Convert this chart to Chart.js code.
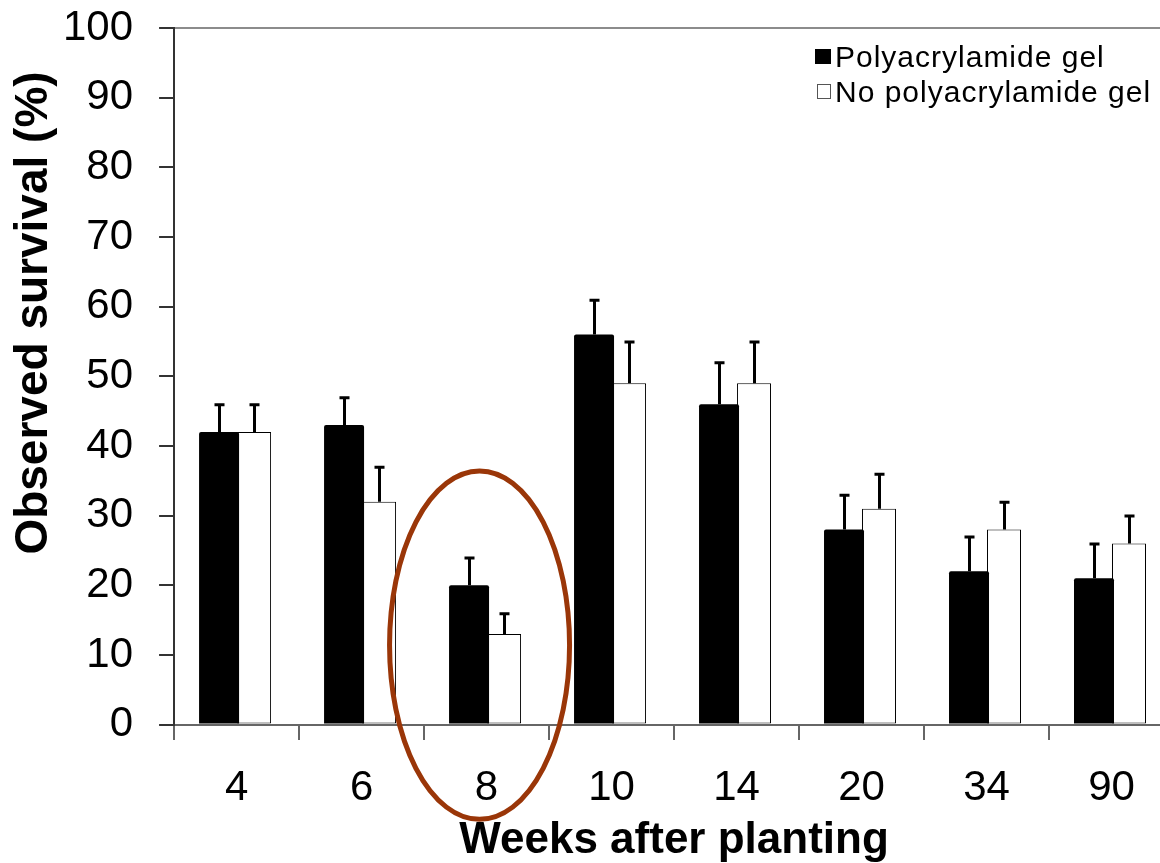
<!DOCTYPE html>
<html>
<head>
<meta charset="utf-8">
<script src="https://cdn.jsdelivr.net/npm/chart.js@4.4.1/dist/chart.umd.min.js"></script>
<style>
  html, body { margin: 0; padding: 0; background: #fff; overflow: hidden; width: 1160px; height: 863px; }
  #wrap { width: 1180px; height: 863px; }
</style>
</head>
<body>
<div id="wrap"><canvas id="c" width="1180" height="863"></canvas></div>
<script>
const weeks = ['4', '6', '8', '10', '14', '20', '34', '90'];
const gelSurvival = [42, 43, 20, 56, 46, 28, 22, 21];
const gelErrorTop = [46, 47, 24, 61, 52, 33, 27, 26];
const noGelSurvival = [42, 32, 13, 49, 49, 31, 28, 26];
const noGelErrorTop = [46, 37, 16, 55, 55, 36, 32, 30];
const seriesNames = ['Polyacrylamide gel', 'No polyacrylamide gel'];
const yTitle = 'Observed survival (%)';
const xTitle = 'Weeks after planting';

const FONT = "'Liberation Sans', Arial, Helvetica, sans-serif";

const errorBarPlugin = {
  id: 'errorBars',
  afterDatasetsDraw(chart) {
    const ctx = chart.ctx;
    const y = chart.scales.y;
    const tops = [gelErrorTop, noGelErrorTop];
    ctx.save();
    ctx.strokeStyle = '#000';
    ctx.lineWidth = 3;
    ctx.lineCap = 'butt';
    tops.forEach((arr, di) => {
      const meta = chart.getDatasetMeta(di);
      meta.data.forEach((bar, i) => {
        const yt = y.getPixelForValue(arr[i]);
        const x = Math.round(bar.x) + 0.5;
        ctx.beginPath();
        ctx.moveTo(x, bar.y);
        ctx.lineTo(x, yt);
        ctx.moveTo(x - 5, yt + 0.5);
        ctx.lineTo(x + 5, yt + 0.5);
        ctx.stroke();
      });
    });
    ctx.restore();
  }
};

const decorPlugin = {
  id: 'decor',
  afterDraw(chart) {
    const ctx = chart.ctx;
    const xs = chart.scales.x, ys = chart.scales.y;
    ctx.save();
    // highlight ellipse around week 8
    const cx = xs.getPixelForValue(2) - 7;
    const yTop = ys.getPixelForValue(36.4);
    const yBot = ys.getPixelForValue(-13.6);
    ctx.beginPath();
    ctx.ellipse(cx, (yTop + yBot) / 2, 90, (yBot - yTop) / 2, 0, 0, Math.PI * 2);
    ctx.strokeStyle = '#9a3608';
    ctx.lineWidth = 5;
    ctx.stroke();

    // legend
    ctx.textBaseline = 'alphabetic';
    ctx.textAlign = 'left';
    ctx.font = '30px ' + FONT;
    if ('letterSpacing' in ctx) ctx.letterSpacing = '1px';
    ctx.fillStyle = '#000';
    ctx.fillRect(815, 49, 16, 15);
    ctx.fillText(seriesNames[0], 835, 67);
    ctx.fillStyle = '#fff';
    ctx.fillRect(817, 84, 13, 14);
    ctx.strokeStyle = '#555';
    ctx.lineWidth = 1;
    ctx.strokeRect(817.5, 84.5, 13, 14);
    ctx.fillStyle = '#000';
    ctx.fillText(seriesNames[1], 835, 102);
    if ('letterSpacing' in ctx) ctx.letterSpacing = '0px';

    // y axis title
    ctx.translate(34, 313);
    ctx.rotate(-Math.PI / 2);
    ctx.font = 'bold 46px ' + FONT;
    ctx.textAlign = 'center';
    ctx.textBaseline = 'middle';
    ctx.fillText(yTitle, 0, 0);
    ctx.restore();
  }
};

new Chart(document.getElementById('c'), {
  type: 'bar',
  data: {
    labels: weeks,
    datasets: [
      {
        label: seriesNames[0],
        data: gelSurvival,
        backgroundColor: '#000',
        borderColor: '#000',
        borderWidth: 0,
        borderRadius: 2,
        borderSkipped: 'bottom',
        barPercentage: 40 / 35
      },
      {
        label: seriesNames[1],
        data: noGelSurvival,
        backgroundColor: '#fff',
        borderColor: '#000',
        borderWidth: 1,
        borderSkipped: false,
        barPercentage: 34 / 35
      }
    ]
  },
  options: {
    responsive: false,
    devicePixelRatio: 1,
    animation: false,
    categoryPercentage: 0.56,
    layout: { padding: { left: 63, top: 28, right: 6, bottom: 0 } },
    plugins: {
      legend: { display: false },
      tooltip: { enabled: false }
    },
    scales: {
      x: {
        grid: {
          offset: true,
          drawOnChartArea: false,
          tickLength: 39,
          tickBorderDash: [14, 1000],
          tickColor: '#666',
          lineWidth: 2
        },
        border: { color: '#666', width: 2 },
        ticks: {
          color: '#000',
          padding: 0,
          maxRotation: 0,
          font: { family: FONT, size: 42 }
        },
        title: {
          display: true,
          text: xTitle,
          color: '#000',
          padding: { top: 5, bottom: 0 },
          font: { family: FONT, size: 44, weight: 'bold', lineHeight: 1.0 }
        }
      },
      y: {
        min: 0,
        max: 100,
        ticks: {
          stepSize: 10,
          color: '#000',
          padding: 0,
          font: { family: FONT, size: 42 }
        },
        grid: {
          drawOnChartArea: true,
          color: (c) => (c.tick && c.tick.value === 100 ? '#8c8c8c' : 'rgba(0,0,0,0)'),
          tickColor: '#333',
          tickLength: 41,
          tickBorderDash: [0, 26, 14, 1000],
          lineWidth: 2
        },
        border: { color: '#333', width: 2 }
      }
    }
  },
  plugins: [errorBarPlugin, decorPlugin]
});
</script>
</body>
</html>
